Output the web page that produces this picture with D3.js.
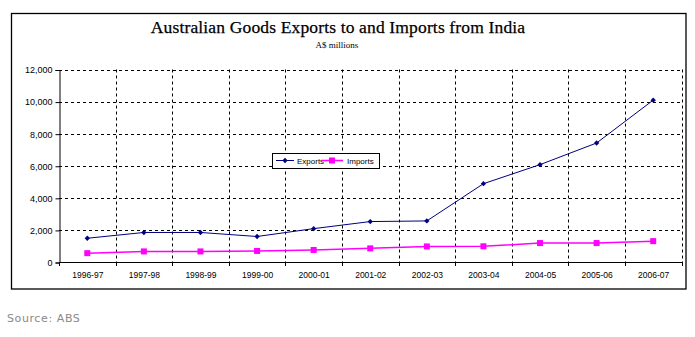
<!DOCTYPE html>
<html><head><meta charset="utf-8">
<script src="https://cdn.jsdelivr.net/npm/d3@7"></script>
<style>html,body{margin:0;padding:0;background:#fff;}svg{display:block;}</style>
</head><body>
<svg id="c" width="695" height="337"></svg>
<script>
const categories = ["1996-97","1997-98","1998-99","1999-00","2000-01","2001-02","2002-03","2003-04","2004-05","2005-06","2006-07"];
const exportsVals = [1480,1840,1840,1590,2080,2520,2560,4880,6070,7420,10090];
const importsVals = [550,660,660,690,750,850,970,980,1180,1180,1300];
const yTicks = [0,2000,4000,6000,8000,10000,12000];
const seriesNames = ["Exports","Imports"];
const titleText = "Australian Goods Exports to and Imports from India";
const subtitleText = "A$ millions";
const sourceText = "Source: ABS";

const svg = d3.select("#c");
const L = 59, R = 681.5, T = 69.5, B = 262;
const x = d3.scaleBand().domain(categories).range([L, R]);
const y = d3.scaleLinear().domain([0, 12000]).range([B, T]);

// outer border
svg.append("rect").attr("x", 11.5).attr("y", 13.5).attr("width", 674.5).attr("height", 275.5)
  .attr("fill", "none").attr("stroke", "#000").attr("stroke-width", 1.3);

// title
svg.append("text").attr("x", 338).attr("y", 33).attr("text-anchor", "middle")
  .attr("font-family", "Liberation Serif, Times New Roman, serif").attr("font-size", 17.5)
  .attr("letter-spacing", 0.15)
  .attr("fill", "#000").attr("stroke", "#000").attr("stroke-width", 0.25).text(titleText);
svg.append("text").attr("x", 337).attr("y", 47.5).attr("text-anchor", "middle")
  .attr("font-family", "Liberation Serif, Times New Roman, serif").attr("font-size", 9)
  .attr("fill", "#000").text(subtitleText);

// gridlines horizontal
const g = svg.append("g");
g.selectAll("line.hg").data(yTicks.filter(d => d > 0)).enter().append("line")
  .attr("x1", L).attr("x2", R).attr("y1", d => Math.round(y(d)) + 0.5).attr("y2", d => Math.round(y(d)) + 0.5)
  .attr("stroke", "#000").attr("stroke-width", 1).attr("stroke-dasharray", "3,3");
// gridlines vertical at category boundaries
const bounds = categories.map(c => x(c) + x.bandwidth());
g.selectAll("line.vg").data(bounds).enter().append("line")
  .attr("x1", d => Math.round(d) + 0.5).attr("x2", d => Math.round(d) + 0.5).attr("y1", T).attr("y2", B)
  .attr("stroke", "#000").attr("stroke-width", 1).attr("stroke-dasharray", "3,3");

// y axis
const yAxis = d3.axisLeft(y).tickValues(yTicks).tickSize(4).tickPadding(3)
  .tickFormat(d => d3.format(",")(d));
const ya = svg.append("g").attr("transform", `translate(${L + 0.5},0.5)`).call(yAxis);
ya.select(".domain").attr("stroke", "#000");
ya.selectAll("text").attr("font-family", "Liberation Sans, Arial, sans-serif").attr("font-size", 9).attr("fill", "#000");

// x axis
const xa = svg.append("g").attr("transform", `translate(0.5,${B + 0.5})`).call(d3.axisBottom(x).tickSize(0).tickPadding(9));
xa.select(".domain").attr("stroke", "#000").attr("d", `M${L},0H${R}`);
xa.selectAll("text").attr("font-family", "Liberation Sans, Arial, sans-serif").attr("font-size", 8.5).attr("fill", "#000");
svg.append("g").selectAll("line").data([L].concat(bounds)).enter().append("line")
  .attr("x1", d => Math.round(d) + 0.5).attr("x2", d => Math.round(d) + 0.5).attr("y1", B).attr("y2", B + 4)
  .attr("stroke", "#000");

const cx = c => x(c) + x.bandwidth() / 2;
const line = d3.line().x((d, i) => cx(categories[i])).y(d => y(d));

// imports
svg.append("path").datum(importsVals).attr("d", line).attr("fill", "none").attr("stroke", "#ff00ff").attr("stroke-width", 1.5);
svg.append("g").selectAll("rect").data(importsVals).enter().append("rect")
  .attr("x", (d, i) => cx(categories[i]) - 3).attr("y", d => y(d) - 3).attr("width", 6).attr("height", 6).attr("fill", "#ff00ff");

// exports
svg.append("path").datum(exportsVals).attr("d", line).attr("fill", "none").attr("stroke", "#000080").attr("stroke-width", 1);
const diamond = d3.symbol().type(d3.symbolDiamond2).size(18);
svg.append("g").selectAll("path").data(exportsVals).enter().append("path")
  .attr("transform", (d, i) => `translate(${cx(categories[i])},${y(d)})`).attr("d", diamond).attr("fill", "#000080");

// legend
const lg = svg.append("g");
lg.append("rect").attr("x", 272.5).attr("y", 153.5).attr("width", 107).attr("height", 15)
  .attr("fill", "#fff").attr("stroke", "#000").attr("stroke-width", 1);
lg.append("line").attr("x1", 276).attr("x2", 294).attr("y1", 160.5).attr("y2", 160.5).attr("stroke", "#000080");
lg.append("path").attr("transform", "translate(285,160.5)").attr("d", diamond).attr("fill", "#000080");
lg.append("text").attr("x", 297).attr("y", 163.5).attr("font-family", "Liberation Sans, Arial, sans-serif")
  .attr("font-size", 8).attr("fill", "#000").text(seriesNames[0]);
lg.append("line").attr("x1", 321).attr("x2", 343).attr("y1", 160.5).attr("y2", 160.5).attr("stroke", "#ff00ff").attr("stroke-width", 1.5);
lg.append("rect").attr("x", 329).attr("y", 157.5).attr("width", 6).attr("height", 6).attr("fill", "#ff00ff");
lg.append("text").attr("x", 347).attr("y", 163.5).attr("font-family", "Liberation Sans, Arial, sans-serif")
  .attr("font-size", 8).attr("fill", "#000").text(seriesNames[1]);

// source
svg.append("text").attr("x", 7).attr("y", 322).attr("font-family", "DejaVu Sans, Verdana, sans-serif")
  .attr("font-size", 11).attr("letter-spacing", 0.6).attr("fill", "#8a8a8a").text(sourceText);
</script>
</body></html>
